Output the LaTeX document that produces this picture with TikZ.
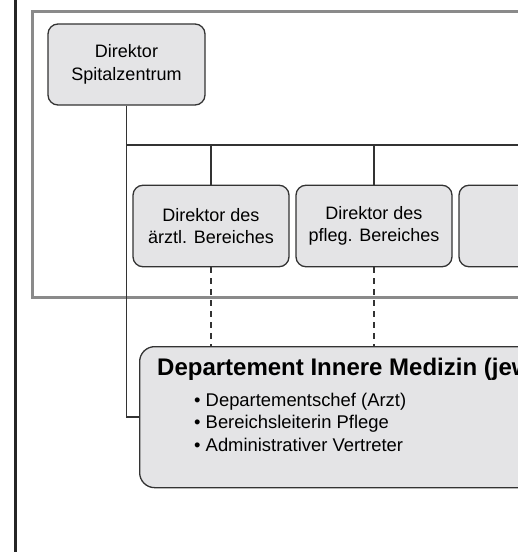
\documentclass[tikz,border=0pt]{standalone}
\usepackage{fontspec}
\setmainfont{Liberation Sans}
\definecolor{boxgrau}{RGB}{228,228,230}
\definecolor{rahmengrau}{RGB}{138,138,138}
\definecolor{liniengrau}{RGB}{51,51,51}

\begin{document}
\begin{tikzpicture}[x=1pt, y=-1pt,
    kasten/.style={draw=liniengrau, line width=1.3pt, fill=boxgrau, rounded corners=10pt,
      inner sep=0pt, align=center, minimum width=156pt, minimum height=81.5pt,
      font=\fontsize{18}{22.5}\selectfont},
    linie/.style={liniengrau, line width=1.8pt},
    gestrichelt/.style={linie, dash pattern=on 6pt off 5pt},
    liste/.style={anchor=base west, inner sep=0pt, font=\fontsize{18.4}{22}\selectfont}]
  \useasboundingbox (0,0) rectangle (518,552);
  \clip (0,0) rectangle (518,552);

  % Rahmen
  \draw[black!85, line width=3pt] (15.5,0) -- (15.5,552);
  \draw[rahmengrau, line width=3pt] (32.5,11.5) rectangle (720,297.5);

  % Kästen
  \node[kasten, minimum width=157pt, minimum height=81pt] (dir) at (126.5,64.5) {Direktor\\Spitalzentrum};
  \node[kasten] (aerztl) at (211,226) {Direktor des\\ärztl. Bereiches};
  \node[kasten] (pfleg) at (374,226) {Direktor des\\pfleg. Bereiches};
  \node[kasten] (weitere) at (537,226) {};
  \coordinate (bus) at (126.5,145);

  % Verbindungen
  \draw[linie] (dir.south) |- (bus) -- (bus -| weitere.north) -- (weitere.north);
  \draw[linie] (bus -| aerztl.north) -- (aerztl.north);
  \draw[linie] (bus -| pfleg.north) -- (pfleg.north);

  % Departement
  \node[kasten, rounded corners=15pt, anchor=north west, minimum width=580pt, minimum height=141pt] (dept) at (139,346) {};
  \draw[linie] (dir.south) |- (dept.west);
  \draw[gestrichelt] (aerztl.south) -- (aerztl.south |- dept.north);
  \draw[gestrichelt] (pfleg.south) -- (pfleg.south |- dept.north);

  % Texte
  \node[anchor=base west, inner sep=0pt, font=\fontsize{24}{28}\selectfont\bfseries] (titel) at (157,375) {Departement Innere Medizin (jew};
  \node[liste] (chef) at (194,406) {\textbullet\ Departementschef (Arzt)};
  \node[liste] (pflege) at (194,428.5) {\textbullet\ Bereichsleiterin Pflege};
  \node[liste] (admin) at (194,451) {\textbullet\ Administrativer Vertreter};
\end{tikzpicture}
\end{document}
